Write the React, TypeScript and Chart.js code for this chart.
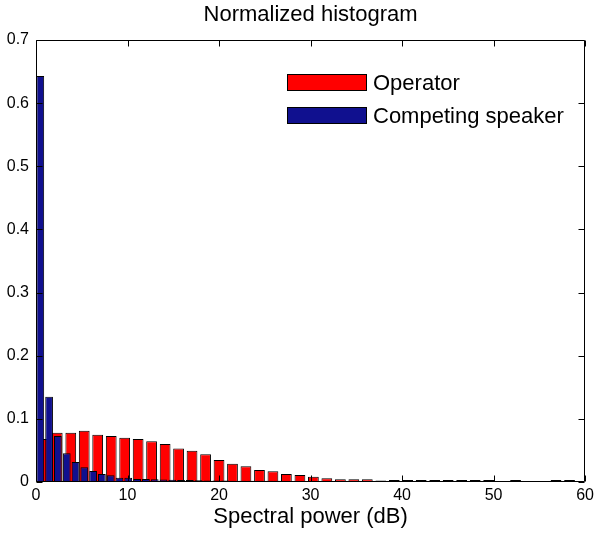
import React, { useEffect, useRef } from "react";
import { Chart, registerables } from "chart.js";

Chart.register(...registerables);

// Bin centres (dB) and normalized counts
const operatorBins = [
  0.85, 2.32, 3.8, 5.27, 6.74, 8.22, 9.69, 11.16, 12.63, 14.11,
  15.58, 17.05, 18.53, 20.0, 21.47, 22.94, 24.42, 25.89, 27.36, 28.84,
  30.31, 31.78, 33.26, 34.73, 36.2, 37.68, 39.15, 40.62, 42.09, 43.57,
  45.04, 46.51, 47.99, 49.46, 50.93, 52.4, 53.88, 55.35, 56.82, 58.3,
];
const operatorValues = [
  0.068, 0.078, 0.078, 0.081, 0.075, 0.073, 0.07, 0.068, 0.0645, 0.06,
  0.053, 0.0496, 0.044, 0.035, 0.029, 0.025, 0.019, 0.017, 0.0127, 0.011,
  0.0084, 0.006, 0.0045, 0.0044, 0.0042, 0.0025, 0.0032, 0.003, 0.003, 0.003,
  0.003, 0.003, 0.003, 0.003, 0, 0.003, 0, 0, 0.003, 0.003,
];

const competingBins = [
  0.47, 1.43, 2.39, 3.36, 4.32, 5.28, 6.24, 7.2, 8.16, 9.12,
  10.08, 11.05, 12.01, 12.97, 13.93, 14.89, 15.85, 16.81, 17.77, 18.74,
  19.7, 20.66, 21.62, 22.58, 23.54, 24.5, 25.46, 26.42, 27.39, 28.35,
  29.31, 30.27, 31.23, 32.19, 33.15, 34.11, 35.08, 36.04, 37.0, 37.96,
];
const competingValues = [
  0.643, 0.135, 0.073, 0.0455, 0.0317, 0.0233, 0.0174, 0.0127, 0.0106, 0.0068,
  0.0068, 0.0047, 0.0047, 0.0042, 0.0038, 0.0035, 0.003, 0.003, 0.0028, 0.0025,
  0.0025, 0.0022, 0.002, 0.002, 0.002, 0.002, 0.0018, 0.0018, 0.0017, 0.0017,
  0.0016, 0.0016, 0.0015, 0.0015, 0.0015, 0.0015, 0.0015, 0.0015, 0.0015, 0.0015,
];

const seriesLabels = ["Operator", "Competing speaker"];
const seriesColors = ["#ff0000", "#10108f"];

const xMin = 0;
const xMax = 60;
const xStep = 10;
const yMin = 0;
const yMax = 0.7;
const yStep = 0.1;

const FONT = "'Liberation Sans', Arial, Helvetica, sans-serif";

const framePlugin = {
  id: "frame",
  afterDraw(chart: any) {
    const { ctx, chartArea: a, scales } = chart;
    const xs = scales.x;
    const ys = scales.y;
    const L = Math.round(a.left) + 0.5;
    const R = Math.round(a.right) - 0.5;
    const T = Math.round(a.top) + 0.5;
    const B = Math.round(a.bottom) - 0.5;
    const tick = 6;
    ctx.save();
    ctx.strokeStyle = "#000";
    ctx.lineWidth = 1;
    ctx.beginPath();
    ctx.rect(L, T, R - L, B - T);
    xs.ticks.forEach((t: any) => {
      const px = Math.round(xs.getPixelForValue(t.value)) + 0.5;
      ctx.moveTo(px, B);
      ctx.lineTo(px, B - tick);
      ctx.moveTo(px, T);
      ctx.lineTo(px, T + tick);
    });
    ys.ticks.forEach((t: any) => {
      const py = Math.round(ys.getPixelForValue(t.value)) + 0.5;
      ctx.moveTo(L, py);
      ctx.lineTo(L + tick, py);
      ctx.moveTo(R, py);
      ctx.lineTo(R - tick, py);
    });
    ctx.stroke();

    // legend inside the plot area
    const boxW = 80;
    const boxH = 17;
    const rowGap = 33;
    const left = a.left + 251;
    const top = a.top + 34;
    ctx.font = `22px ${FONT}`;
    ctx.textBaseline = "middle";
    ctx.textAlign = "left";
    chart.data.datasets.forEach((ds: any, i: number) => {
      const y = top + i * rowGap;
      ctx.fillStyle = ds.backgroundColor;
      ctx.fillRect(left, y, boxW, boxH);
      ctx.strokeStyle = "#000";
      ctx.strokeRect(left + 0.5, y + 0.5, boxW - 1, boxH - 1);
      ctx.fillStyle = "#000";
      ctx.fillText(ds.label, left + boxW + 6, y + boxH / 2 + 1);
    });
    ctx.restore();
  },
};

export default function App() {
  const ref = useRef<HTMLCanvasElement>(null);

  useEffect(() => {
    const canvas = ref.current;
    if (!canvas) return;
    const chart = new Chart(canvas, {
      type: "bar",
      data: {
        datasets: [
          {
            label: seriesLabels[0],
            data: operatorBins.map((x, i) => ({ x, y: operatorValues[i] })),
            backgroundColor: seriesColors[0],
            borderColor: "#000",
            borderWidth: 1,
            borderSkipped: false,
            grouped: false,
            categoryPercentage: 1,
            barPercentage: 0.8,
            xAxisID: "x",
            order: 1,
          },
          {
            label: seriesLabels[1],
            data: competingBins.map((x, i) => ({ x, y: competingValues[i] })),
            backgroundColor: seriesColors[1],
            borderColor: "#000",
            borderWidth: 1,
            borderSkipped: false,
            grouped: false,
            categoryPercentage: 1,
            barPercentage: 0.88,
            xAxisID: "x2",
            order: 0,
          },
        ] as any,
      },
      options: {
        animation: false,
        responsive: false,
        events: [],
        layout: {
          autoPadding: false,
          padding: { left: 0, right: 11, top: 0, bottom: 0 },
        },
        plugins: {
          legend: { display: false },
          tooltip: { enabled: false },
          title: {
            display: true,
            fullSize: false,
            text: "Normalized histogram",
            color: "#000",
            font: { family: FONT, size: 22, weight: "normal" },
            padding: { top: 2, bottom: 11.6 },
          },
        },
        scales: {
          x: {
            type: "linear",
            position: "bottom",
            offset: false,
            min: xMin,
            max: xMax,
            ticks: {
              stepSize: xStep,
              color: "#000",
              padding: 4,
              font: { family: FONT, size: 16 },
            },
            grid: { display: false, drawTicks: false },
            border: { display: false },
            title: {
              display: true,
              text: "Spectral power (dB)",
              color: "#000",
              font: { family: FONT, size: 22 },
              padding: { top: 0, bottom: 5 },
            },
            afterFit: (s: any) => {
              s.height = 53;
            },
          },
          x2: {
            type: "linear",
            position: "bottom",
            offset: false,
            min: xMin,
            max: xMax,
            display: false,
          },
          y: {
            type: "linear",
            min: yMin,
            max: yMax,
            ticks: {
              stepSize: yStep,
              color: "#000",
              padding: 7,
              font: { family: FONT, size: 16 },
            },
            grid: { display: false, drawTicks: false },
            border: { display: false },
            afterFit: (s: any) => {
              s.width = 36;
            },
          },
        },
      } as any,
      plugins: [framePlugin],
    });
    return () => chart.destroy();
  }, []);

  return (
    <div style={{ position: "absolute", left: 0, top: 0, width: 598, height: 535, background: "#fff" }}>
      <canvas ref={ref} width={598} height={535} style={{ display: "block" }} />
    </div>
  );
}
